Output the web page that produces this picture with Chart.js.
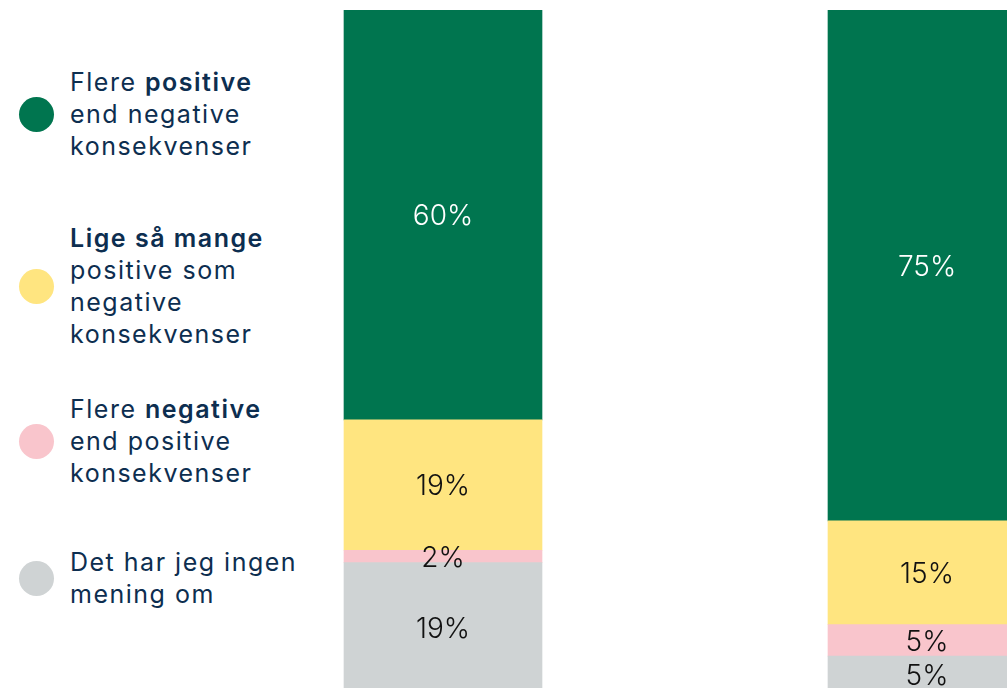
<!DOCTYPE html>
<html>
<head>
<meta charset="utf-8">
<script src="https://cdn.jsdelivr.net/npm/chart.js@4"></script>
<style>
body{margin:0;width:1007px;height:688px;overflow:hidden;background:#fff;position:relative;font-family:'Inter',sans-serif;}
.item{position:absolute;left:19px;display:flex;align-items:center;}
.dot{width:35px;height:35px;border-radius:50%;margin-right:16px;flex:none;}
.txt{font-size:25px;line-height:32px;color:#0d2e50;white-space:nowrap;letter-spacing:1.5px;}
.txt b{font-weight:600;}
#wrap{position:absolute;left:201px;top:0;}
</style>
</head>
<body>
<div class="item" style="top:66px"><div class="dot" style="background:#00754f"></div><div class="txt">Flere <b>positive</b><br>end negative<br>konsekvenser</div></div>
<div class="item" style="top:222px"><div class="dot" style="background:#ffe580"></div><div class="txt"><b>Lige så mange</b><br>positive som<br>negative<br>konsekvenser</div></div>
<div class="item" style="top:393px"><div class="dot" style="background:#f9c5cc"></div><div class="txt">Flere <b>negative</b><br>end positive<br>konsekvenser</div></div>
<div class="item" style="top:546px"><div class="dot" style="background:#cfd3d4"></div><div class="txt">Det har jeg ingen<br>mening om</div></div>
<div id="wrap"><canvas id="c" width="968" height="693"></canvas></div>
<script>
// two groups, values in percent
let categories = ['Gruppe 1', 'Gruppe 2'];
let positive = [60.0, 74.8];
let equal = [19.1, 15.2];
let negative = [1.8, 4.6];
let noOpinion = [19.1, 5.4];

let barLabels = {
    id: 'barLabels',
    afterDatasetsDraw(chart) {
        let ctx = chart.ctx;
        ctx.save();
        ctx.font = '300 28px "Inter"';
        ctx.textAlign = 'center';
        ctx.textBaseline = 'middle';
        chart.data.datasets.forEach((ds, i) => {
            chart.getDatasetMeta(i).data.forEach((bar, j) => {
                let p = bar.getProps(['x', 'y', 'base'], true);
                ctx.fillStyle = ds.labelColor;
                ctx.fillText(Math.round(ds.data[j]) + '%', p.x, (p.y + p.base) / 2 + 2);
            });
        });
        ctx.restore();
    }
};

let canvas = document.getElementById('c');
let chart = new Chart(canvas, {
    type: 'bar',
    data: {
        labels: categories,
        datasets: [
            { label: 'Det har jeg ingen mening om', data: noOpinion, backgroundColor: '#cfd3d4', labelColor: '#111' },
            { label: 'Flere negative end positive konsekvenser', data: negative, backgroundColor: '#f9c5cc', labelColor: '#111' },
            { label: 'Lige så mange positive som negative konsekvenser', data: equal, backgroundColor: '#ffe580', labelColor: '#111' },
            { label: 'Flere positive end negative konsekvenser', data: positive, backgroundColor: '#00754f', labelColor: '#fff' }
        ]
    },
    options: {
        responsive: false,
        animation: false,
        devicePixelRatio: 1,
        layout: { padding: { top: 10, left: 0, right: 0, bottom: 0 } },
        datasets: { bar: { barThickness: 198, borderWidth: 0 } },
        scales: {
            x: { stacked: true, display: false },
            y: { stacked: true, display: false, min: 0, max: 100 }
        },
        plugins: { legend: { display: false }, tooltip: { enabled: false } }
    },
    plugins: [barLabels]
});
</script>
</body>
</html>
